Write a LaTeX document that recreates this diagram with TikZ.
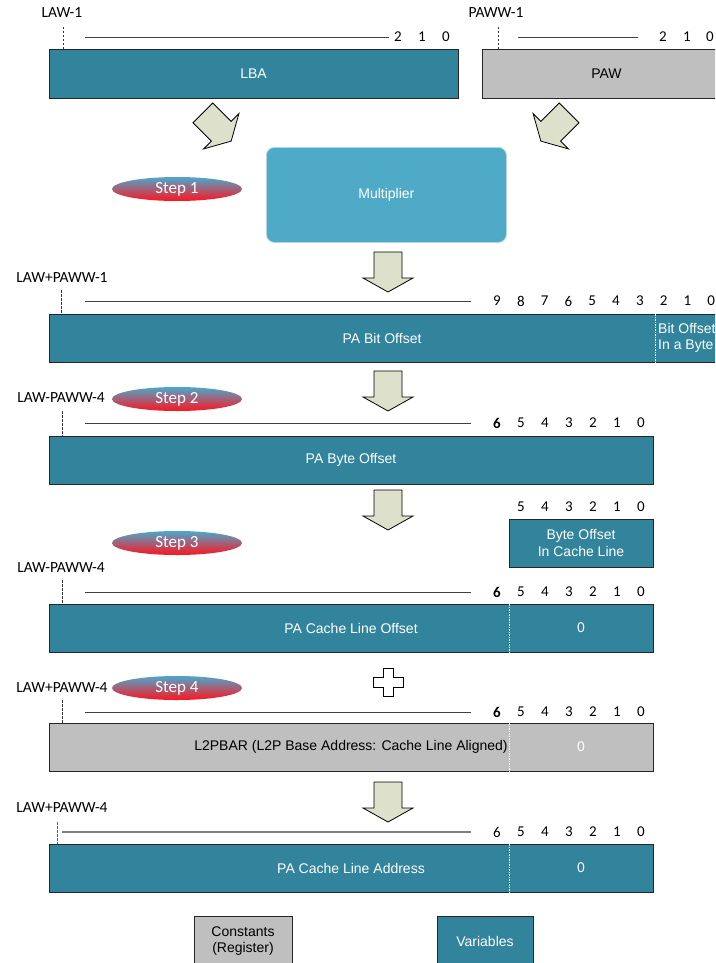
\documentclass[tikz,border=0pt]{standalone}
\usepackage{fontspec}
\setmainfont{Carlito}
\newfontfamily\arialf{Liberation Sans}
\usetikzlibrary{shapes.geometric}
\definecolor{tealbox}{RGB}{49,132,155}
\definecolor{multblue}{RGB}{79,170,200}
\definecolor{graybox}{RGB}{191,191,191}
\definecolor{arrowfill}{RGB}{221,224,203}
\definecolor{stepblue}{RGB}{75,168,205}
\definecolor{stepred}{RGB}{255,20,30}
\begin{document}
\begin{tikzpicture}[x=1pt,y=-1pt,
  lbl/.style={inner sep=0, font=\fontsize{15.5}{18}\selectfont},
  bit/.style={inner sep=0, font=\fontsize{15}{18}\selectfont},
  reg/.style={draw=black!85, line width=0.9, inner sep=0, outer sep=0, anchor=north west, font=\arialf\fontsize{14}{16.5}\selectfont, text=white},
  var/.style={reg, fill=tealbox},
  con/.style={reg, fill=graybox, text=black},
  ruler/.style={draw=black!75, line width=0.8},
  dashv/.style={draw=black!80, line width=0.7, dash pattern=on 2.5pt off 1.5pt},
  divider/.style={draw=white, line width=0.7, dash pattern=on 1.5pt off 1pt},
  fatarrow/.style={fill=arrowfill, draw=black, line width=0.8, line join=miter},
  stepell/.style={ellipse, minimum width=130, minimum height=24, inner sep=0, top color=stepblue, bottom color=stepred, text=white, font=\fontsize{17}{19}\selectfont},
  wtxt/.style={inner sep=0, text=white, font=\arialf\fontsize{14}{16.5}\selectfont},
  btxt/.style={inner sep=0, text=black, font=\arialf\fontsize{14}{16.5}\selectfont}
]
\clip (0,0) rectangle (715,963);
\fill[white] (0,0) rectangle (715,963);

% ---------- top row: LBA and PAW ----------
\node[lbl] (law1) at (62,13) {LAW-1};
\draw[dashv] (63,27) -- (63,49);
\draw[ruler] (85,37) -- (389,37);
\foreach \d/\x in {2/398,1/422,0/446} \node[bit] (lbab\d) at (\x,37) {\d};
\node[var, minimum width=409, minimum height=49] (lba) at (49,49) {LBA};

\node[lbl] (paww1) at (496,13) {PAWW-1};
\draw[dashv] (498,27) -- (498,49);
\draw[ruler] (518,37) -- (638,37);
\foreach \d/\x in {2/663,1/687,0/710} \node[bit] (pawb\d) at (\x,37) {\d};
\node[con, minimum width=249, minimum height=49] (paw) at (482,49) {PAW};

% diagonal fat arrows
\draw[fatarrow, shift={(217,127)}, rotate=45] (-14,-20) -- (14,-20) -- (14,6) -- (25,6) -- (0,20) -- (-25,6) -- (-14,6) -- cycle;
\draw[fatarrow, shift={(555,127)}, rotate=-45] (-14,-20) -- (14,-20) -- (14,6) -- (25,6) -- (0,20) -- (-25,6) -- (-14,6) -- cycle;

% ---------- step 1: multiplier ----------
\node[stepell] (step1) at (177,189) {Step 1};
\node[draw=white!55!multblue, line width=0.8, fill=multblue, rounded corners=8, minimum width=240, minimum height=95, inner sep=0, anchor=north west, text=white, font=\arialf\fontsize{14}{16.5}\selectfont] (mult) at (266,147) {Multiplier};

\draw[fatarrow, shift={(388,272)}] (-14,-20) -- (14,-20) -- (14,6) -- (25,6) -- (0,20) -- (-25,6) -- (-14,6) -- cycle;

% ---------- PA bit offset ----------
\node[lbl] (lawpaww1) at (62,278) {LAW+PAWW-1};
\draw[dashv] (61,290) -- (61,314);
\draw[ruler] (85,301) -- (471,301);
\foreach \d [count=\i from 0] in {9,8,7,6,5,4,3,2,1,0} \node[bit] (bitb\d) at (497+23.8*\i,301) {\d};
\node[var, minimum width=672, minimum height=48] (pabit) at (49,314) {};
\node[wtxt] (pabitt) at (382,338) {PA Bit Offset};
\draw[divider] (655,314) -- (655,362);
\node[wtxt, anchor=west, align=left] (bitinbyte) at (658,338) {Bit Offset\\In a Byte};

% ---------- step 2 ----------
\draw[fatarrow, shift={(388,391)}] (-14,-20) -- (14,-20) -- (14,6) -- (25,6) -- (0,20) -- (-25,6) -- (-14,6) -- cycle;
\node[lbl] (lbl2) at (61,398) {LAW-PAWW-4};
\node[stepell] (step2) at (177,399) {Step 2};
\draw[dashv] (62,411) -- (62,436);
\draw[ruler] (85,423) -- (471,423);
\foreach \d [count=\i from 0] in {\textbf{6},5,4,3,2,1,0} \node[bit] (byteb\i) at (497+24*\i,423) {\d};
\node[var, minimum width=604, minimum height=48] (pabyte) at (49,436) {PA Byte Offset};

% ---------- step 3 ----------
\draw[fatarrow, shift={(388,510)}] (-14,-20) -- (14,-20) -- (14,6) -- (25,6) -- (0,20) -- (-25,6) -- (-14,6) -- cycle;
\node[stepell] (step3) at (177,543) {Step 3};
\foreach \d [count=\i from 1] in {5,4,3,2,1,0} \node[bit] (boclb\d) at (497+24*\i,507) {\d};
\node[var, minimum width=144, minimum height=48, align=center] (bocl) at (509,519) {Byte Offset\\In Cache Line};

\node[lbl] (lbl3) at (61,568) {LAW-PAWW-4};
\draw[dashv] (62,580) -- (62,604);
\draw[ruler] (85,592) -- (471,592);
\foreach \d [count=\i from 0] in {\textbf{6},5,4,3,2,1,0} \node[bit] (clob\i) at (497+24*\i,592) {\d};
\node[var, minimum width=604, minimum height=48] (pacl) at (49,604) {PA Cache Line Offset};
\draw[divider] (509,604) -- (509,652);
\node[wtxt] (zero1) at (581,628) {0};

% ---------- step 4 ----------
\node[lbl] (lbl4) at (62,688) {LAW+PAWW-4};
\node[stepell] (step4) at (177,688) {Step 4};
\draw[fill=white, draw=black, line width=0.8, shift={(388,682)}] (-5,-14) -- (5,-14) -- (5,-5) -- (15,-5) -- (15,5) -- (5,5) -- (5,14) -- (-5,14) -- (-5,5) -- (-15,5) -- (-15,-5) -- (-5,-5) -- cycle;
\draw[dashv] (62,700) -- (62,723);
\draw[ruler] (85,712) -- (471,712);
\foreach \d [count=\i from 0] in {\textbf{6},5,4,3,2,1,0} \node[bit] (barb\i) at (497+24*\i,712) {\d};
\node[con, minimum width=604, minimum height=48] (l2pbar) at (49,723) {L2PBAR (L2P Base Address: Cache Line Aligned)};
\draw[divider] (509,723) -- (509,771);
\node[wtxt] (zero2) at (581,747) {0};

% ---------- result ----------
\draw[fatarrow, shift={(388,802)}] (-14,-20) -- (14,-20) -- (14,6) -- (25,6) -- (0,20) -- (-25,6) -- (-14,6) -- cycle;
\node[lbl] (lbl5) at (62,808) {LAW+PAWW-4};
\draw[dashv, draw=black!60] (57,822) -- (57,844);
\draw[draw=black!50, line width=1.3] (62,832) -- (471,832);
\foreach \d [count=\i from 0] in {6,5,4,3,2,1,0} \node[bit] (resb\i) at (497+24*\i,832) {\d};
\node[var, minimum width=604, minimum height=48] (pacla) at (49,844) {PA Cache Line Address};
\draw[divider] (509,844) -- (509,892);
\node[wtxt] (zero3) at (581,868) {0};

% ---------- legend ----------
\node[con, minimum width=98, minimum height=50, align=center] (constants) at (194,916) {Constants\\(Register)};
\node[var, minimum width=96, minimum height=50] (variables) at (437,916) {Variables};
\end{tikzpicture}
\end{document}
